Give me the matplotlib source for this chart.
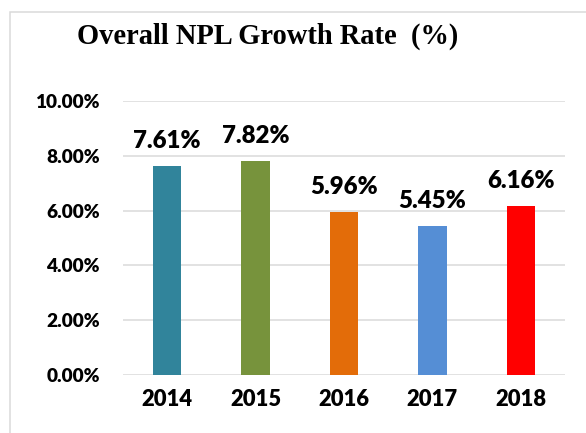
import matplotlib
matplotlib.use("Agg")
import matplotlib.pyplot as plt
from matplotlib.patches import Rectangle
from matplotlib.ticker import FuncFormatter

years = ["2014", "2015", "2016", "2017", "2018"]
rates = [0.0761, 0.0782, 0.0596, 0.0545, 0.0616]
colors = ["#31849B", "#77933C", "#E36C09", "#558ED5", "#FF0000"]
yticks = [0.0, 0.02, 0.04, 0.06, 0.08, 0.10]

W, H = 586, 433
fig = plt.figure(figsize=(W / 72, H / 72), dpi=72)
fig.patch.set_facecolor("white")

# light grey frame around the chart (cut off at right and bottom)
fig.patches.append(Rectangle((10 / W, -0.05), 1.2, 1 - 12 / H + 0.05,
                             transform=fig.transFigure, fill=False,
                             edgecolor="#D9D9D9", linewidth=1.5))

ax = fig.add_axes([123 / W, 1 - 375 / H, (565 - 123) / W, (375 - 101) / H])
x = range(len(years))
bars = ax.bar(x, rates, width=0.32, color=colors, zorder=3)

ax.set_xlim(-0.5, 4.5)
ax.set_ylim(0, 0.10)
ax.set_yticks(yticks)
ax.yaxis.set_major_formatter(FuncFormatter(lambda v, p: f"{v * 100:.2f}%"))
for t in yticks:
    ax.axhline(t, color="#D9D9D9", linewidth=1.5, zorder=1)

for s in ax.spines.values():
    s.set_visible(False)
ax.tick_params(length=0)
ax.tick_params(axis="y", pad=23)
ax.tick_params(axis="x", pad=14)
ax.set_xticks(list(x))
ax.set_xticklabels(years)
for lab in ax.get_yticklabels():
    lab.set_fontsize(19)
    lab.set_fontweight("heavy")
    lab.set_family("Lato")
for lab in ax.get_xticklabels():
    lab.set_fontsize(22)
    lab.set_fontweight("heavy")
    lab.set_family("Lato")

for b, v in zip(bars, rates):
    ax.annotate(f"{v * 100:.2f}%", (b.get_x() + b.get_width() / 2, v),
                xytext=(0, 18), textcoords="offset points",
                ha="center", va="baseline", fontsize=24,
                fontweight="heavy", family="Lato")

fig.text(268 / W, 1 - 44 / H, "Overall NPL Growth Rate  (%)",
         ha="center", va="baseline", fontsize=28.5, fontweight="bold",
         family="Liberation Serif")

fig.savefig("out.png", dpi=72)
